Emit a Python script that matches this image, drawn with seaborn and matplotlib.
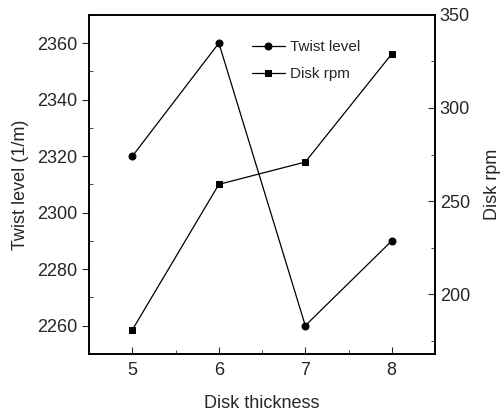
import seaborn as sns
import matplotlib.pyplot as plt
import pandas as pd
from matplotlib.ticker import MultipleLocator

sns.set_style("ticks")
plt.rcParams['font.family'] = ['Liberation Sans', 'DejaVu Sans']

# Data
disk_thickness = [5, 6, 7, 8]
twist_level = [2320, 2360, 2260, 2290]
disk_rpm = [181, 259, 271, 329]

df = pd.DataFrame({'Disk thickness': disk_thickness,
                   'Twist level': twist_level,
                   'Disk rpm': disk_rpm})

fig = plt.figure(figsize=(5.04, 4.12), dpi=100)
ax = fig.add_axes([0.177, 0.141, 0.686, 0.823])
ax2 = ax.twinx()

sns.lineplot(data=df, x='Disk thickness', y='Twist level', ax=ax,
             color='black', marker='o', markersize=5, linewidth=0.9,
             markeredgecolor='black', label='Twist level', legend=False)
sns.lineplot(data=df, x='Disk thickness', y='Disk rpm', ax=ax2,
             color='black', marker='s', markersize=5, linewidth=0.9,
             markeredgecolor='black', label='Disk rpm', legend=False)

ax.set_xlim(4.5, 8.5)
ax.set_ylim(2250, 2370)
ax2.set_ylim(168, 350)

ax.xaxis.set_major_locator(MultipleLocator(1))
ax.xaxis.set_minor_locator(MultipleLocator(0.5))
ax.yaxis.set_major_locator(MultipleLocator(20))
ax.yaxis.set_minor_locator(MultipleLocator(10))
ax2.yaxis.set_major_locator(MultipleLocator(50))
ax2.yaxis.set_minor_locator(MultipleLocator(25))

ax.tick_params(axis='x', which='both', direction='in', labelsize=13, pad=6)
ax.tick_params(axis='x', which='major', length=5)
ax.tick_params(axis='x', which='minor', length=3)
ax.tick_params(axis='y', which='major', direction='out', length=5, labelsize=13)
ax.tick_params(axis='y', which='minor', direction='in', length=3)
ax2.tick_params(axis='y', which='major', direction='in', length=5, labelsize=13)
ax2.tick_params(axis='y', which='minor', direction='in', length=3)

ax.set_xlabel('Disk thickness', fontsize=13, labelpad=11)
ax.set_ylabel('Twist level (1/m)', fontsize=13, labelpad=6)
ax2.set_ylabel('Disk rpm', fontsize=13, labelpad=10)

for a in (ax, ax2):
    for s in a.spines.values():
        s.set_linewidth(1.2)
        s.set_color('black')

h1, l1 = ax.get_legend_handles_labels()
h2, l2 = ax2.get_legend_handles_labels()
ax.legend(h1 + h2, l1 + l2, loc='upper left', bbox_to_anchor=(0.43, 0.965),
          frameon=False, fontsize=11, handlelength=2.2, handletextpad=0.3,
          labelspacing=0.85)

plt.savefig('out.png', dpi=100)
